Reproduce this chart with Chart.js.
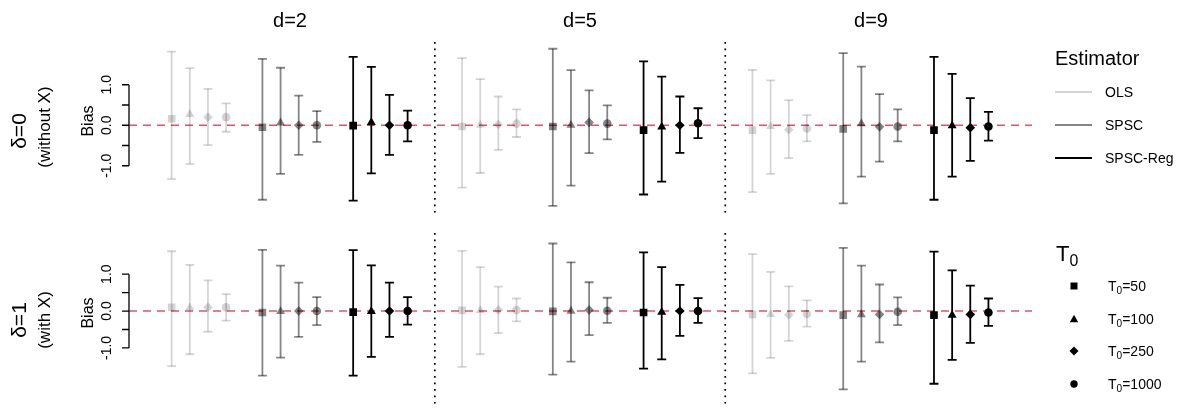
<!DOCTYPE html>
<html>
<head>
<meta charset="utf-8">
<script src="https://cdn.jsdelivr.net/npm/chart.js@4"></script>
<style>
  body { margin: 0; background: #fff; font-family: "Liberation Sans", Arial, sans-serif; color: #000; }
  #wrap { position: relative; width: 1184px; height: 410px; overflow: hidden; }
  canvas { position: absolute; left: 0; }
  .lbl { position: absolute; white-space: nowrap; transform: translate(-50%, -50%); line-height: 1; }
  .rot { transform: translate(-50%, -50%) rotate(-90deg); }
  .leg { position: absolute; white-space: nowrap; line-height: 1; transform: translateY(-50%); }
  sub { font-size: 72%; vertical-align: -0.3em; line-height: 0; }
</style>
</head>
<body>
<div id="wrap">
  <canvas id="rowTop" width="1184" height="222" style="top:0"></canvas>
  <canvas id="rowBottom" width="1184" height="188" style="top:222px"></canvas>

  <div class="lbl" style="left:290px;top:20px;font-size:20px">d=2</div>
  <div class="lbl" style="left:580px;top:20px;font-size:20px">d=5</div>
  <div class="lbl" style="left:871px;top:20px;font-size:20px">d=9</div>

  <div class="lbl rot" style="left:18px;top:131px;font-size:21px">δ=0</div>
  <div class="lbl rot" style="left:44px;top:127px;font-size:17px">(without X)</div>
  <div class="lbl rot" style="left:88px;top:121px;font-size:16px">Bias</div>

  <div class="lbl rot" style="left:18px;top:320px;font-size:21px">δ=1</div>
  <div class="lbl rot" style="left:44px;top:320px;font-size:17px">(with X)</div>
  <div class="lbl rot" style="left:88px;top:313px;font-size:16px">Bias</div>

  <div id="legEst"></div>
  <div id="legT0"></div>
</div>

<script>
// категории
const dims = ["d=2", "d=5", "d=9"];
const estimators = ["OLS", "SPSC", "SPSC-Reg"];
const t0s = [50, 100, 250, 1000];
const biasTicks = [-1, -0.5, 0, 0.5, 1];
const tickLabels = ["-1.0", "", "0.0", "", "1.0"];

// delta=0 (without X): d=2 T0=50,100,250,1000 | d=5 ... | d=9 ...
const olsEst0 = [0.16, 0.27, 0.20, 0.20, -0.03, 0.00, 0.02, 0.04, -0.12, -0.03, -0.11, -0.08];
const olsLo0 = [-1.33, -0.96, -0.49, -0.16, -1.54, -1.18, -0.61, -0.29, -1.65, -1.20, -0.81, -0.40];
const olsHi0 = [1.82, 1.41, 0.90, 0.54, 1.66, 1.14, 0.71, 0.39, 1.37, 1.11, 0.62, 0.25];
const spscEst0 = [-0.05, 0.06, 0.00, 0.00, -0.03, 0.00, 0.07, 0.04, -0.09, 0.04, -0.04, -0.03];
const spscLo0 = [-1.84, -1.20, -0.73, -0.41, -1.99, -1.49, -0.69, -0.35, -1.93, -1.27, -0.90, -0.40];
const spscHi0 = [1.64, 1.42, 0.73, 0.35, 1.89, 1.36, 0.86, 0.49, 1.78, 1.45, 0.77, 0.39];
const regEst0 = [-0.01, 0.07, 0.00, 0.00, -0.12, -0.04, 0.00, 0.05, -0.12, -0.01, -0.06, -0.03];
const regLo0 = [-1.86, -1.19, -0.73, -0.40, -1.71, -1.39, -0.68, -0.32, -1.84, -1.27, -0.88, -0.38];
const regHi0 = [1.69, 1.44, 0.75, 0.36, 1.58, 1.20, 0.71, 0.42, 1.69, 1.27, 0.67, 0.33];

// delta=1 (with X)
const olsEst1 = [0.10, 0.09, 0.10, 0.10, 0.02, 0.02, 0.03, 0.03, -0.09, -0.09, -0.10, -0.08];
const olsLo1 = [-1.49, -1.17, -0.56, -0.26, -1.51, -1.17, -0.60, -0.28, -1.69, -1.27, -0.81, -0.42];
const olsHi1 = [1.62, 1.25, 0.83, 0.46, 1.63, 1.19, 0.66, 0.34, 1.54, 1.06, 0.67, 0.29];
const spscEst1 = [-0.04, -0.01, 0.00, 0.00, -0.01, 0.00, 0.03, 0.01, -0.11, -0.10, -0.09, -0.02];
const spscLo1 = [-1.75, -1.26, -0.70, -0.38, -1.72, -1.37, -0.65, -0.32, -2.12, -1.37, -0.85, -0.38];
const spscHi1 = [1.66, 1.23, 0.77, 0.38, 1.83, 1.32, 0.78, 0.36, 1.71, 1.23, 0.72, 0.37];
const regEst1 = [-0.03, -0.01, 0.00, 0.00, -0.04, -0.03, 0.00, 0.00, -0.11, -0.11, -0.09, -0.04];
const regLo1 = [-1.75, -1.24, -0.70, -0.37, -1.56, -1.31, -0.67, -0.32, -1.97, -1.32, -0.86, -0.40];
const regHi1 = [1.65, 1.24, 0.77, 0.38, 1.59, 1.19, 0.71, 0.35, 1.61, 1.10, 0.69, 0.34];

// цвета и маркеры
const estColors = ["rgba(0,0,0,0.17)", "rgba(0,0,0,0.48)", "#000"];
const t0Styles = ["rect", "triangle", "rectRot", "circle"];
const t0Radius = [5.4, 5.2, 4.8, 4.3];
const zeroColor = "#DF536B";
const font = '"Liberation Sans", Arial, sans-serif';

const xMin = -2.35, xMax = 47.4;

// позиция по оси x: блок d, группа оценщика, T0
function xPos(i, e) {
  const d = Math.floor(i / 4), t = i % 4;
  return d * 16 + e * 5 + t;
}

// ось Bias как в R: линия от -1 до 1, подписи повернуты
const biasAxis = {
  id: "biasAxis",
  afterDraw(chart) {
    const ctx = chart.ctx;
    const y = chart.scales.y;
    const left = chart.chartArea.left;
    ctx.save();
    ctx.strokeStyle = "#000";
    ctx.lineWidth = 1.3;
    ctx.beginPath();
    ctx.moveTo(left, y.getPixelForValue(biasTicks[0]));
    ctx.lineTo(left, y.getPixelForValue(biasTicks[biasTicks.length - 1]));
    biasTicks.forEach((v) => {
      const py = y.getPixelForValue(v);
      ctx.moveTo(left - 7, py);
      ctx.lineTo(left, py);
    });
    ctx.stroke();
    ctx.fillStyle = "#000";
    ctx.font = "14px " + font;
    ctx.textAlign = "center";
    ctx.textBaseline = "middle";
    biasTicks.forEach((v, k) => {
      if (!tickLabels[k]) return;
      ctx.save();
      ctx.translate(left - 22, y.getPixelForValue(v));
      ctx.rotate(-Math.PI / 2);
      ctx.fillText(tickLabels[k], 0, 0);
      ctx.restore();
    });
    ctx.restore();
  },
};

function buildRow(canvasId, rows, yMin, yMax, padTop, padBottom) {
  const datasets = [];

  // у Chart.js больший order рисуется раньше (ниже)
  datasets.push({
    data: [{ x: xMin, y: 0 }, { x: xMax, y: 0 }],
    borderColor: zeroColor,
    borderWidth: 1.6,
    borderDash: [8, 6],
    pointRadius: 0,
    order: 10,
  });

  datasets.push({
    data: [
      { x: 14.5, y: yMin }, { x: 14.5, y: yMax }, { x: 14.5, y: null },
      { x: 30.5, y: yMin }, { x: 30.5, y: yMax },
    ],
    borderColor: "#000",
    borderWidth: 1.7,
    borderDash: [1.7, 4.8],
    pointRadius: 0,
    spanGaps: false,
    order: 9,
  });

  rows.forEach(([est, lo, hi], e) => {
    const col = estColors[e];
    const whisk = [];
    const caps = [];
    const pts = [];
    est.forEach((v, i) => {
      const x = xPos(i, e);
      whisk.push({ x, y: lo[i] }, { x, y: hi[i] }, { x, y: null });
      caps.push({ x, y: lo[i] }, { x, y: hi[i] });
      pts.push({ x, y: v });
    });
    datasets.push({
      data: whisk,
      borderColor: col,
      borderWidth: 1.8,
      pointRadius: 0,
      spanGaps: false,
      order: 3,
    });
    datasets.push({
      data: caps,
      showLine: false,
      pointStyle: "line",
      pointRadius: 4.5,
      pointBorderColor: col,
      pointBorderWidth: 1.8,
      order: 2,
    });
    datasets.push({
      data: pts,
      showLine: false,
      pointStyle: (c) => t0Styles[c.dataIndex % 4],
      pointRadius: (c) => t0Radius[c.dataIndex % 4],
      pointBackgroundColor: col,
      pointBorderWidth: 0,
      order: 1,
    });
  });

  return new Chart(document.getElementById(canvasId), {
    type: "line",
    data: { datasets },
    options: {
      responsive: false,
      animation: false,
      events: [],
      layout: { padding: { left: 129, right: 152, top: padTop, bottom: padBottom } },
      plugins: { legend: { display: false }, tooltip: { enabled: false } },
      scales: {
        x: { type: "linear", min: xMin, max: xMax, display: false },
        y: { type: "linear", min: yMin, max: yMax, display: false },
      },
    },
    plugins: [biasAxis],
  });
}

buildRow("rowTop", [[olsEst0, olsLo0, olsHi0], [spscEst0, spscLo0, spscHi0], [regEst0, regLo0, regHi0]], -2.16, 2.16, 37.8, 9.3);
buildRow("rowBottom", [[olsEst1, olsLo1, olsHi1], [spscEst1, spscLo1, spscHi1], [regEst1, regLo1, regHi1]], -2.51, 2.15, 9.7, 0);

// легенды
const legEst = document.getElementById("legEst");
legEst.innerHTML =
  '<div class="leg" style="left:1055px;top:58px;font-size:20px">Estimator</div>' +
  estimators.map((name, e) => {
    const y = 92 + e * 33;
    return '<div style="position:absolute;left:1055px;top:' + (y - 1) + 'px;width:37px;height:2px;background:' + estColors[e] + '"></div>' +
      '<div class="leg" style="left:1105px;top:' + y + 'px;font-size:14px">' + name + '</div>';
  }).join("");

const shapes = [
  '<rect x="2.5" y="2.5" width="7" height="7"/>',
  '<polygon points="6,1.8 10.2,9.2 1.8,9.2"/>',
  '<polygon points="6,1.5 10.5,6 6,10.5 1.5,6"/>',
  '<circle cx="6" cy="6" r="3.7"/>',
];
const legT0 = document.getElementById("legT0");
legT0.innerHTML =
  '<div class="leg" style="left:1056px;top:254px;font-size:22px">T<sub>0</sub></div>' +
  t0s.map((t, k) => {
    const y = 286 + k * 32.7;
    return '<svg style="position:absolute;left:1068px;top:' + (y - 6) + 'px" width="12" height="12">' + shapes[k] + '</svg>' +
      '<div class="leg" style="left:1108px;top:' + y + 'px;font-size:14px">T<sub>0</sub>=' + t + '</div>';
  }).join("");
</script>
</body>
</html>
